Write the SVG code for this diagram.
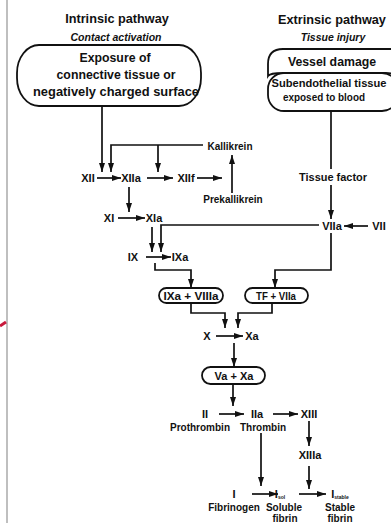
<svg xmlns="http://www.w3.org/2000/svg" width="391" height="523" viewBox="0 0 391 523">
<style>
text{font-family:"Liberation Sans",Arial,sans-serif;font-weight:bold;fill:#111;text-anchor:middle}
.t{font-size:12.7px}
.s{font-size:10.5px;font-style:italic}
.b{font-size:12.3px}
.m{font-size:11.8px}
.n{font-size:11px}
.l{font-size:10px}
.box{fill:#fff;stroke:#111;stroke-width:1.8}
.c path{fill:none;stroke:#111;stroke-width:1.7}
.c path.a{marker-end:url(#ah)}
</style>
<defs>
<marker id="ah" markerUnits="userSpaceOnUse" markerWidth="9" markerHeight="6" refX="9" refY="3" orient="auto">
<path d="M0,0 L9,3 L0,6 z" fill="#111"/>
</marker>
</defs>
<rect width="391" height="523" fill="#fff"/>
<line x1="7" y1="0" x2="7" y2="523" stroke="#aaa" stroke-width="1.5"/>
<path d="M0,326 L6,322" stroke="#c8193c" stroke-width="3" fill="none"/>

<g id="title-intrinsic"><text class="t" x="117" y="23">Intrinsic pathway</text><text class="s" x="116" y="41">Contact activation</text></g>
<g id="title-extrinsic"><text class="t" x="332" y="24">Extrinsic pathway</text><text class="s" x="333" y="41">Tissue injury</text></g>

<g id="exposure"><rect class="box" x="17" y="45" width="184" height="61" rx="22" ry="28"/>
<text class="b" x="115" y="62">Exposure of</text>
<text class="b" x="116" y="79">connective tissue or</text>
<text class="b" x="116" y="96" textLength="166" lengthAdjust="spacingAndGlyphs">negatively charged surface</text></g>

<g id="subendothelial"><rect class="box" x="268" y="73" width="130" height="38" rx="16" ry="16"/>
<text class="m" x="329" y="87" textLength="115" lengthAdjust="spacingAndGlyphs">Subendothelial tissue</text>
<text class="m" x="324" y="101" textLength="82" lengthAdjust="spacingAndGlyphs">exposed to blood</text></g>
<g id="vessel"><path class="box" d="M268,76 L268,64 Q268,49 283,49 L398,49 L398,76 Q394,73 386,73 L283,73 Q270,73 268,76 Z"/>
<text class="b" x="332" y="66">Vessel damage</text></g>

<g id="XII"><text class="n" x="88" y="182">XII</text></g>
<g id="XIIa"><text class="n" x="131" y="182">XIIa</text></g>
<g id="XIIf"><text class="n" x="186" y="182">XIIf</text></g>
<g id="kallikrein"><text class="l" x="230" y="150">Kallikrein</text></g>
<g id="prekallikrein"><text class="l" x="233" y="203">Prekallikrein</text></g>
<g id="XI"><text class="n" x="109" y="222">XI</text></g>
<g id="XIa"><text class="n" x="154" y="222">XIa</text></g>
<g id="IX"><text class="n" x="133" y="261">IX</text></g>
<g id="IXa"><text class="n" x="180" y="261">IXa</text></g>
<g id="tissue-factor"><text class="l" x="333" y="181" textLength="68" lengthAdjust="spacingAndGlyphs">Tissue factor</text></g>
<g id="VIIa"><text class="n" x="332" y="230">VIIa</text></g>
<g id="VII"><text class="n" x="379" y="230">VII</text></g>

<g id="IXa-VIIIa"><rect class="box" x="159" y="288" width="64" height="15" rx="7.5"/>
<text class="n" x="191" y="299.5" textLength="55" lengthAdjust="spacingAndGlyphs">IXa + VIIIa</text></g>
<g id="TF-VIIa"><rect class="box" x="245" y="288" width="63" height="15" rx="7.5"/>
<text class="n" x="276" y="299.5" textLength="40" lengthAdjust="spacingAndGlyphs">TF + VIIa</text></g>

<g id="X"><text class="n" x="207" y="340">X</text></g>
<g id="Xa"><text class="n" x="252" y="340">Xa</text></g>
<g id="Va-Xa"><rect class="box" x="202" y="367" width="63" height="17" rx="8.5"/>
<text class="n" x="234" y="379.5">Va + Xa</text></g>

<g id="II"><text class="n" x="205" y="418">II</text><text class="l" x="200" y="431">Prothrombin</text></g>
<g id="IIa"><text class="n" x="257" y="418">IIa</text><text class="l" x="263" y="431">Thrombin</text></g>
<g id="XIII"><text class="n" x="309" y="418">XIII</text></g>
<g id="XIIIa"><text class="n" x="310" y="459">XIIIa</text></g>
<g id="I"><text class="n" x="234" y="498">I</text><text class="l" x="234" y="511">Fibrinogen</text></g>
<g id="Isol"><text class="n" x="280" y="498">I<tspan style="font-size:5px" dy="1">sol</tspan></text><text class="l" x="284" y="511">Soluble</text><text class="l" x="285" y="522">fibrin</text></g>
<g id="Istable"><text class="n" x="340" y="498">I<tspan style="font-size:5px" dy="1">stable</tspan></text><text class="l" x="340" y="511">Stable</text><text class="l" x="340" y="522">fibrin</text></g>

<g id="connectors" class="c">
<path class="a" d="M102,106 V172"/>
<path class="a" d="M203,145 H111 V172"/>
<path class="a" d="M158,145 V172"/>
<path class="a" d="M97,178 H121"/>
<path class="a" d="M147,178 H173"/>
<path class="a" d="M197,178 H222"/>
<path class="a" d="M232,193 V155"/>
<path class="a" d="M129,187 V212"/>
<path class="a" d="M118,218 H145"/>
<path class="a" d="M152,227 V252"/>
<path class="a" d="M319,225 H161 V252"/>
<path class="a" d="M146,257 H171"/>
<path class="a" d="M155,263 V270 H191 V288"/>
<path d="M331,111 V169"/>
<path class="a" d="M331,185 V219"/>
<path class="a" d="M368,226 H344"/>
<path class="a" d="M331,233 V270 H275 V288"/>
<path class="a" d="M191,303 V313 H225 V328"/>
<path class="a" d="M272,303 V313 H238 V328"/>
<path class="a" d="M216,336 H243"/>
<path class="a" d="M234,343 V367"/>
<path class="a" d="M233,384 V406"/>
<path class="a" d="M219,414 H244"/>
<path class="a" d="M273,414 H298"/>
<path class="a" d="M261,433 V486"/>
<path class="a" d="M309,421 V446"/>
<path class="a" d="M309,466 V489"/>
<path class="a" d="M252,494 H278"/>
<path class="a" d="M299,494 H326"/>
</g>
</svg>
